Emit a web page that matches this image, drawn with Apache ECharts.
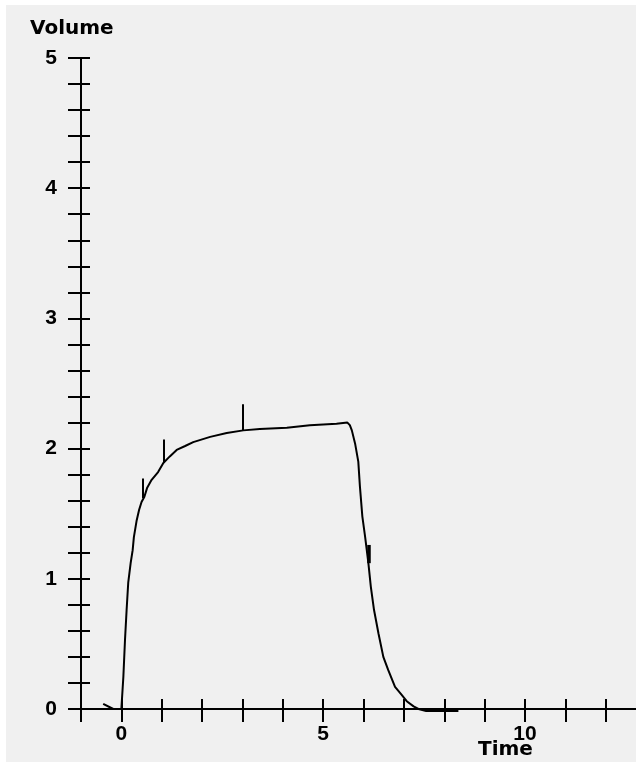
<!DOCTYPE html>
<html>
<head>
<meta charset="utf-8">
<script src="https://cdn.jsdelivr.net/npm/echarts@6/dist/echarts.min.js"></script>
<style>
  html, body { margin: 0; padding: 0; background: #ffffff; }
  #chart { position: absolute; left: 6px; top: 5px; width: 630px; height: 757px; }
</style>
</head>
<body>
<div id="chart"></div>
<script>
// ---- data ----
const time = [-0.45, -0.2, 0.0, 0.05, 0.09, 0.13, 0.17, 0.23, 0.28, 0.31, 0.38, 0.44, 0.50, 0.57, 0.64, 0.75, 0.91, 1.04, 1.2, 1.37, 1.58, 1.78, 2.2, 2.61, 3.02, 3.43, 4.1, 4.67, 5.33, 5.6, 5.66, 5.71, 5.79, 5.87, 5.91, 5.97, 6.04, 6.12, 6.18, 6.26, 6.37, 6.49, 6.61, 6.78, 6.94, 7.07, 7.24, 7.36, 7.55, 8.35];
const volume = [0.04, 0.0, 0.0, 0.25, 0.53, 0.76, 0.97, 1.12, 1.22, 1.32, 1.45, 1.53, 1.59, 1.63, 1.70, 1.76, 1.82, 1.89, 1.94, 1.99, 2.02, 2.05, 2.09, 2.12, 2.14, 2.15, 2.16, 2.18, 2.19, 2.20, 2.18, 2.14, 2.04, 1.90, 1.71, 1.48, 1.32, 1.12, 0.94, 0.76, 0.58, 0.40, 0.30, 0.17, 0.11, 0.06, 0.02, 0.0, -0.015, -0.015];

// event markers: time, low volume, high volume
const markerTime = [0.54, 1.04, 3.0, 6.12];
const markerLow  = [1.62, 1.89, 2.14, 1.12];
const markerHigh = [1.77, 2.07, 2.34, 1.26];

const xTicks = [-1, 0, 1, 2, 3, 4, 5, 6, 7, 8, 9, 10, 11, 12];
const xLabels = [0, 5, 10];
const yTicks = [0, 0.2, 0.4, 0.6, 0.8, 1, 1.2, 1.4, 1.6, 1.8, 2, 2.2, 2.4, 2.6, 2.8, 3, 3.2, 3.4, 3.6, 3.8, 4, 4.2, 4.4, 4.6, 4.8, 5];
const yLabels = [0, 1, 2, 3, 4, 5];
const xTitle = 'Time';
const yTitle = 'Volume';

// ---- chart ----
const chart = echarts.init(document.getElementById('chart'));
const ink = '#000000';
const labelFont = { color: ink, fontFamily: 'Liberation Sans', fontWeight: 'bold', fontSize: 21 };
const tickStyle = { color: ink, width: 2 };

function xAxisDef(inside) {
  return {
    type: 'value', min: -1, max: 12.75, position: 'bottom',
    axisLine: { show: !inside, onZero: false, lineStyle: { color: ink, width: 2 } },
    axisTick: { show: true, customValues: xTicks, inside: inside, length: inside ? 10 : 13, lineStyle: tickStyle },
    axisLabel: inside ? { show: false } : Object.assign({ customValues: xLabels, margin: 15 }, labelFont),
    splitLine: { show: false }
  };
}
function yAxisDef(inside) {
  return {
    type: 'value', min: 0, max: 5, position: 'left',
    axisLine: { show: !inside, onZero: false, lineStyle: { color: ink, width: 2 } },
    axisTick: { show: true, customValues: yTicks, inside: inside, length: inside ? 9 : 13, lineStyle: tickStyle },
    axisLabel: inside ? { show: false } : Object.assign({ customValues: yLabels, margin: 24 }, labelFont),
    splitLine: { show: false }
  };
}

const curve = time.map((t, i) => [t, volume[i]]);
const markerLines = markerTime.map((t, i) => [
  { coord: [t, markerLow[i]], lineStyle: { width: i === 3 ? 3.5 : 2 } },
  { coord: [t, markerHigh[i]] }
]);

chart.setOption({
  animation: false,
  backgroundColor: '#f0f0f0',
  title: [
    { text: yTitle, left: 24, top: 14, padding: 0,
      textStyle: { color: ink, fontFamily: 'DejaVu Sans', fontWeight: 'bold', fontSize: 20 } },
    { text: xTitle, left: 472, top: 735, padding: 0,
      textStyle: { color: ink, fontFamily: 'DejaVu Sans', fontWeight: 'bold', fontSize: 20 } }
  ],
  grid: { left: 75, top: 53, right: 0, bottom: 53, containLabel: false },
  xAxis: [xAxisDef(false), xAxisDef(true)],
  yAxis: [yAxisDef(false), yAxisDef(true)],
  series: [{
    type: 'line',
    xAxisIndex: 0, yAxisIndex: 0,
    data: curve,
    showSymbol: false,
    clip: false,
    smooth: false,
    lineStyle: { color: ink, width: 2 },
    markLine: {
      symbol: 'none', silent: true,
      label: { show: false },
      lineStyle: { color: ink, width: 2, type: 'solid' },
      data: markerLines
    }
  }]
});
</script>
</body>
</html>
